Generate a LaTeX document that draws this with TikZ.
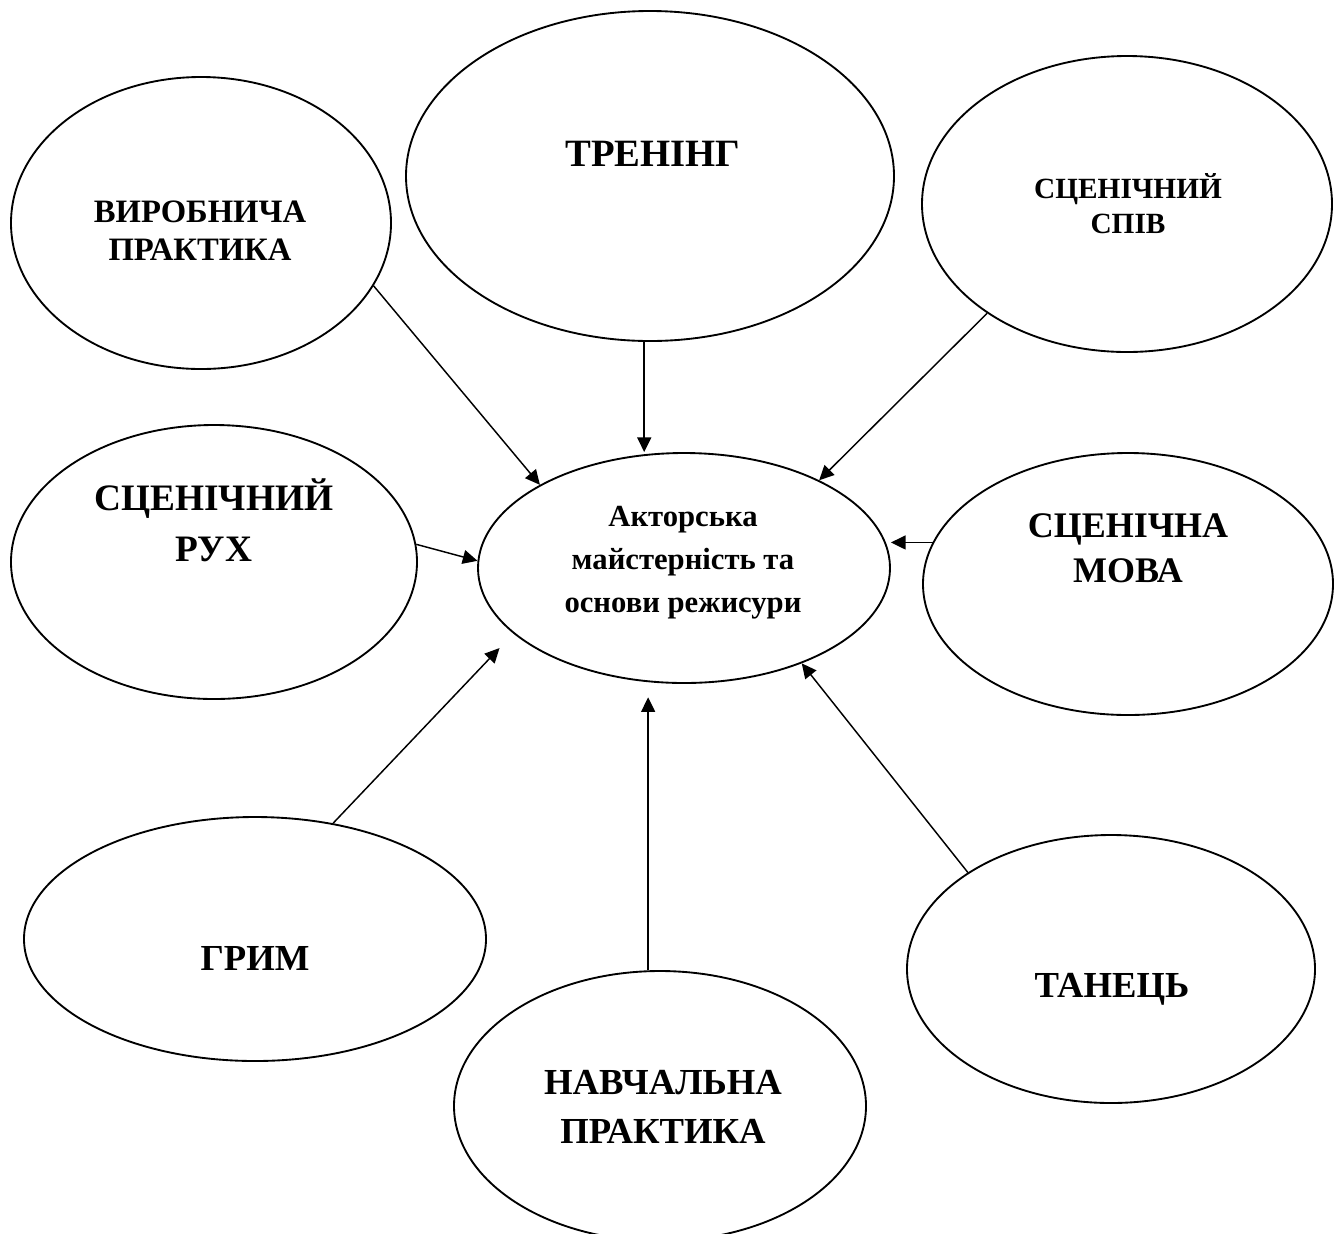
\documentclass[tikz,border=0pt]{standalone}
\usepackage{fontspec}
\setmainfont{Liberation Serif}
\usepackage{tikz}
\usetikzlibrary{shapes.geometric}
\usetikzlibrary{arrows.meta}

\begin{document}
\begin{tikzpicture}[x=0.75pt,y=-0.75pt,
    oval/.style={ellipse,draw,line width=1.4pt,inner sep=0pt},
    txt/.style={anchor=base,align=center,inner sep=0pt},
    arr/.style={line width=1.1pt,-{Triangle[length=11pt,width=10.5pt]}}]
  \useasboundingbox (0,0) rectangle (1335,1233);

  % ellipses
  \node[oval,minimum width=309pt,minimum height=172.5pt] (ctr) at (684,568) {};
  \node[oval,minimum width=285pt,minimum height=219pt] (vyr) at (201,223) {};
  \node[oval,minimum width=366pt,minimum height=247.5pt] (tren) at (650,176) {};
  \node[oval,minimum width=307.5pt,minimum height=222pt] (spiv) at (1127,204) {};
  \node[oval,minimum width=304.5pt,minimum height=205.5pt] (rukh) at (214,562) {};
  \node[oval,minimum width=307.5pt,minimum height=196.5pt] (mova) at (1128,584) {};
  \node[oval,minimum width=346.5pt,minimum height=183pt] (grim) at (255,939) {};
  \node[oval,minimum width=309pt,minimum height=202.5pt] (navch) at (660,1106) {};
  \node[oval,minimum width=306pt,minimum height=201pt] (tanets) at (1111,969) {};

  % texts (base = last line)
  \node[txt,font=\fontsize{23}{32}\selectfont\bfseries] (ctr-t) at (683,612) {Акторська\\майстерність та\\основи режисури};
  \node[txt,font=\fontsize{24.5}{28.5}\selectfont\bfseries] (vyr-t) at (200,260) {ВИРОБНИЧА\\ПРАКТИКА};
  \node[txt,font=\fontsize{29}{34}\selectfont\bfseries] (tren-t) at (653,166) {ТРЕНІНГ};
  \node[txt,font=\fontsize{22}{26.25}\selectfont\bfseries] (spiv-t) at (1128,233) {СЦЕНІЧНИЙ\\СПІВ};
  \node[txt,font=\fontsize{28}{38.25}\selectfont\bfseries] (rukh-t) at (214,561) {СЦЕНІЧНИЙ\\РУХ};
  \node[txt,font=\fontsize{27}{33.75}\selectfont\bfseries] (mova-t) at (1128,582) {СЦЕНІЧНА\\МОВА};
  \node[txt,font=\fontsize{27.5}{33}\selectfont\bfseries] (grim-t) at (255,970) {ГРИМ};
  \node[txt,font=\fontsize{27.5}{36.75}\selectfont\bfseries] (navch-t) at (663,1143) {НАВЧАЛЬНА\\ПРАКТИКА};
  \node[txt,font=\fontsize{27.5}{33}\selectfont\bfseries] (tanets-t) at (1112,997) {ТАНЕЦЬ};

  % arrows to the centre
  \draw[arr] (vyr.-20.5) -- (ctr.150.4);
  \draw[arr] (tren.268.6) -- (tren.268.6 |- ctr.north);
  \draw[arr] (spiv.218.3) -- (ctr.33);
  \draw[arr] (rukh.5.6) -- (ctr.178.6);
  \draw[arr] (mova.168) -- (mova.168 -| ctr.east);
  \draw[arr,shorten >=15pt] (grim.56.1) -- (ctr.201);
  \draw[arr,shorten >=10pt] (navch.95.9) -- (navch.95.9 |- ctr.south);
  \draw[arr] (tanets.146.3) -- (ctr.321.7);
\end{tikzpicture}
\end{document}
